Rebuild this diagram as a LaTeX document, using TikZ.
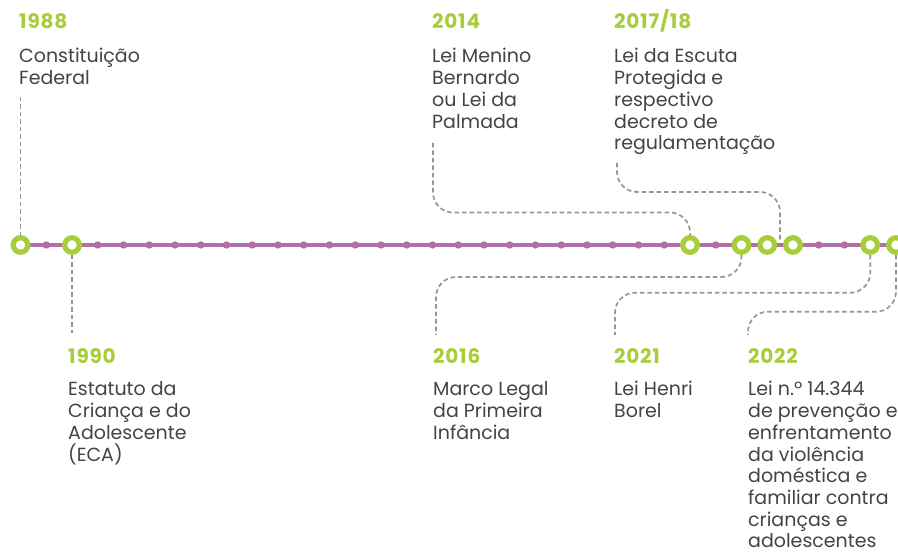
\documentclass[tikz,border=0pt]{standalone}
\usepackage{fontspec}
\setmainfont{Poppins}
\newfontfamily\yearfam[LetterSpace=4]{Poppins}
\definecolor{tlgreen}{HTML}{A6CE39}
\definecolor{tlpurple}{HTML}{B26EA6}
\definecolor{tlgray}{HTML}{969696}
\definecolor{tltext}{HTML}{444444}
\newcommand\yrfont{\yearfam\fontsize{20}{22}\selectfont\bfseries\color{tlgreen}}
\newcommand\bdfont{\fontsize{19}{21.7}\selectfont\color{tltext}}
\tikzset{
  yearlbl/.style={anchor=base west,inner sep=0pt,font=\yrfont},
  bodylbl/.style={anchor=base west,inner sep=0pt,font=\bdfont},
  bigring/.style={circle,draw=tlgreen,fill=white,line width=5.2pt,minimum size=14.6pt,inner sep=0pt},
  smalldot/.style={circle,fill=tlpurple,minimum size=7.4pt,inner sep=0pt},
  tline/.style={draw=tlpurple,line width=3.3pt},
  conn/.style={draw=tlgray,line width=1.7pt,dash pattern=on 4.5pt off 3pt,rounded corners=20pt},
}
\newcommand\blk[1]{\vtop{\baselineskip=21.7pt\lineskiplimit=-20pt\halign{##\hfil\cr#1\crcr}}}
\begin{document}
\begin{tikzpicture}[x=1pt,y=-1pt]
\useasboundingbox (0,0) rectangle (898,553);
\clip (0,0) rectangle (898,553);
\fill[white] (0,0) rectangle (898,553);
% timeline
\coordinate (lineend) at (905,245);
\coordinate (linestart) at (20.5,245);
\draw[tline] (linestart) -- (lineend);
\foreach \k in {1,3,4,5,6,7,8,9,10,11,12,13,14,15,16,17,18,19,20,21,22,23,24,25,27,31,32}{
  \node[smalldot] (d\k) at ({20.5+25.75*\k},245) {};
}
\node[bigring] (e1988) at ({20.5+25.75*0},245) {};
\node[bigring] (e1990) at ({20.5+25.75*2},245) {};
\node[bigring] (e2014) at ({20.5+25.75*26},245) {};
\node[bigring] (e2016) at ({20.5+25.75*28},245) {};
\node[bigring] (e2017) at ({20.5+25.75*29},245) {};
\node[bigring] (e2018) at ({20.5+25.75*30},245) {};
\node[bigring] (e2021) at ({20.5+25.75*33},245) {};
\node[bigring] (e2022) at ({20.5+25.75*34},245) {};
% labels top
\node[yearlbl] (y1988) at (19,29) {1988};
\node[bodylbl] (t1988) at (19,63) {\blk{Constituição\cr Federal}};
\node[yearlbl] (y2014) at (432,29) {2014};
\node[bodylbl] (t2014) at (432,63) {\blk{Lei Menino\cr Bernardo\cr ou Lei da\cr Palmada}};
\node[yearlbl] (y2017) at (614,29) {2017/18};
\node[bodylbl] (t2017) at (614,63) {\blk{Lei da Escuta\cr Protegida e\cr respectivo\cr decreto de\cr regulamentação}};
% labels bottom
\node[yearlbl] (y1990) at (68,364) {1990};
\node[bodylbl] (t1990) at (68,396) {\blk{Estatuto da\cr Criança e do\cr Adolescente\cr (ECA)}};
\node[yearlbl] (y2016) at (433,364) {2016};
\node[bodylbl] (t2016) at (433,396) {\blk{Marco Legal\cr da Primeira\cr Infância}};
\node[yearlbl] (y2021) at (614,364) {2021};
\node[bodylbl] (t2021) at (614,396) {\blk{Lei Henri\cr Borel}};
\node[yearlbl] (y2022) at (748,364) {2022};
\node[bodylbl] (t2022) at (748,396) {\blk{Lei n.º 14.344\cr de prevenção e\cr enfrentamento\cr da violência\cr doméstica e\cr familiar contra\cr crianças e\cr adolescentes}};
% connectors
\coordinate (s1988) at (20.5,97);
\coordinate (s1990) at (72,333);
\coordinate (s2014) at (433,143);
\coordinate (s2017) at (617,163);
\coordinate (f2017) at (780,240);
\coordinate (s2016) at (436,335);
\coordinate (s2021) at (615,335);
\coordinate (s2022) at (748,335);
\draw[conn] (s1988) -- (e1988.north);
\draw[conn] (e1990.south) -- (s1990);
\draw[conn] (s2014) -- (433,212.5) -- (690,212.5) -- (e2014.north);
\draw[conn] (s2017) -- (617,192) -- (780,192) -- (f2017);
\draw[conn] (e2016.south) -- (741.5,277) -- (436,277) -- (s2016);
\draw[conn] (e2021.south) -- (870.25,292.7) -- (615,292.7) -- (s2021);
\draw[conn] (e2022.south) -- (896,311.7) -- (748,311.7) -- (s2022);
\end{tikzpicture}
\end{document}
